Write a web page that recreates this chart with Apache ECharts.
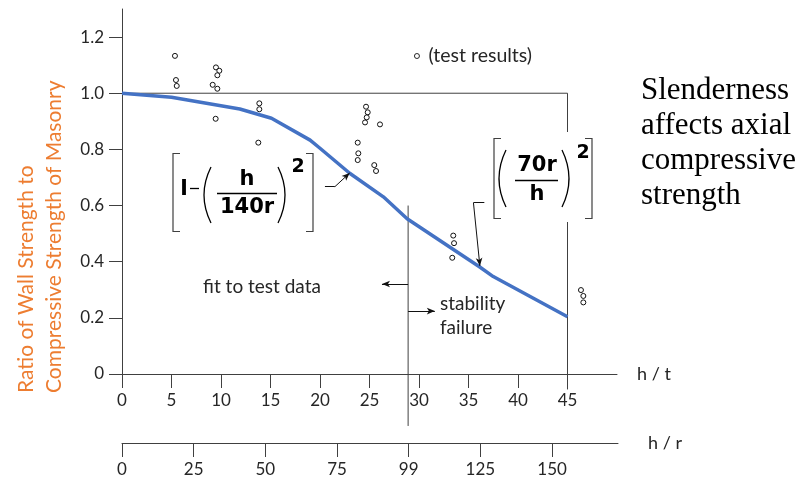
<!DOCTYPE html>
<html>
<head>
<meta charset="utf-8">
<script src="https://cdn.jsdelivr.net/npm/echarts@6/dist/echarts.min.js"></script>
<style>
  html, body { margin: 0; padding: 0; background: #fff; }
  #chart { width: 802px; height: 481px; }
</style>
</head>
<body>
<div id="chart"></div>
<script>
// h/t axis ticks
const htTicks = [0, 5, 10, 15, 20, 25, 30, 35, 40, 45];
// h/r axis: tick positions and the labels printed under them (100 is printed as 99)
const hrTicks = [0, 25, 50, 75, 100, 125, 150];
const hrLabels = ["0", "25", "50", "75", "99", "125", "150"];
// ratio axis
const ratioTicks = [0, 0.2, 0.4, 0.6, 0.8, 1.0, 1.2];
const ratioLabels = ["0", "0.2", "0.4", "0.6", "0.8", "1.0", "1.2"];

// fitted curve [h/t, ratio]
const fitCurve = [
    [0, 1.0], [5.0, 0.986], [11.9, 0.944], [15.1, 0.911], [19.0, 0.833],
    [20.0, 0.804], [23.0, 0.715], [26.4, 0.631], [28.8, 0.553],
    [36.1, 0.382], [37.5, 0.347], [45.0, 0.204],
];

// test results [h/t, ratio]
const testResults = [
    [5.35, 1.133], [5.45, 1.047], [5.53, 1.026],
    [9.49, 1.092], [9.83, 1.080], [9.63, 1.064], [9.16, 1.030], [9.63, 1.016], [9.46, 0.909],
    [13.87, 0.964], [13.87, 0.943], [13.77, 0.824],
    [24.65, 0.952], [24.82, 0.932], [24.72, 0.914], [24.55, 0.896], [26.06, 0.889],
    [23.81, 0.824], [23.87, 0.786], [23.81, 0.762], [25.48, 0.744], [25.66, 0.723],
    [33.46, 0.493], [33.54, 0.466], [33.36, 0.414],
    [46.36, 0.299], [46.6, 0.278], [46.6, 0.255],
];

// reference lines (h/t, ratio)
const limitFrame = [[0, 1.0], [45, 1.0], [45, -0.055]];
const stabilityLine = [[28.9, 0.6], [28.9, -0.185]];

const ink = "#262626";
const axisColor = "#404040";
const labelFont = "Lato";

const chartDom = document.getElementById("chart");
const myChart = echarts.init(chartDom);

function plainLine(name, data) {
    return {
        name: name,
        type: "line",
        data: data,
        symbol: "none",
        clip: false,
        silent: true,
        lineStyle: { color: axisColor, width: 1 },
        z: 1,
    };
}

function arrowSeg(from, to, withArrow) {
    return [
        { coord: from, symbol: "none" },
        { coord: to, symbol: withArrow ? "arrow" : "none", symbolSize: [5, 8] },
    ];
}

const option = {
    animation: false,
    backgroundColor: "#fff",
    grid: [
        { left: 122, right: 185, top: 9, bottom: 107 },
        { left: 122, right: 184, top: 442, height: 1 },
    ],
    legend: {
        data: ["(test results)"],
        left: 414,
        top: 46,
        padding: 0,
        selectedMode: false,
        itemWidth: 13,
        itemHeight: 5,
        itemStyle: { borderWidth: 0.9 },
        textStyle: { fontFamily: labelFont, fontSize: 19.5, color: ink },
    },
    xAxis: [
        {
            type: "value",
            gridIndex: 0,
            min: 0,
            max: 50,
            name: "h / t",
            nameLocation: "end",
            nameGap: 20,
            nameTextStyle: { fontFamily: labelFont, fontSize: 18, color: ink },
            splitLine: { show: false },
            axisLine: { lineStyle: { color: axisColor } },
            axisTick: { length: 14, customValues: htTicks, lineStyle: { color: axisColor } },
            axisLabel: {
                customValues: htTicks,
                margin: 18,
                fontFamily: labelFont,
                fontSize: 17,
                color: ink,
            },
        },
        {
            type: "value",
            gridIndex: 1,
            min: 0,
            max: 173,
            position: "bottom",
            name: "h / r",
            nameLocation: "end",
            nameGap: 30,
            nameTextStyle: { fontFamily: labelFont, fontSize: 18, color: ink },
            splitLine: { show: false },
            axisLine: { lineStyle: { color: axisColor } },
            axisTick: { length: 14, customValues: hrTicks, lineStyle: { color: axisColor } },
            axisLabel: {
                customValues: hrTicks,
                margin: 18,
                fontFamily: labelFont,
                fontSize: 17,
                color: ink,
                formatter: function (v) {
                    return hrLabels[hrTicks.indexOf(v)];
                },
            },
        },
    ],
    yAxis: [
        {
            type: "value",
            gridIndex: 0,
            min: 0,
            max: 1.3,
            splitLine: { show: false },
            axisLine: { show: true, lineStyle: { color: axisColor } },
            axisTick: { show: true, length: 13, customValues: ratioTicks, lineStyle: { color: axisColor } },
            axisLabel: {
                customValues: ratioTicks,
                margin: 18,
                fontFamily: labelFont,
                fontSize: 17,
                color: ink,
                formatter: function (v) {
                    const i = ratioTicks.findIndex((t) => Math.abs(t - v) < 1e-6);
                    return i >= 0 ? ratioLabels[i] : "";
                },
            },
        },
        { type: "value", gridIndex: 1, show: false, min: 0, max: 1 },
    ],
    series: [
        plainLine("limit", limitFrame),
        plainLine("stability", stabilityLine),
        {
            name: "annotations",
            type: "line",
            data: [],
            markLine: {
                silent: true,
                animation: false,
                label: { show: false },
                lineStyle: { color: "#111", width: 1, type: "solid" },
                data: [
                    // fit to test data arrow
                    arrowSeg([28.9, 0.3205], [26.26, 0.3205], true),
                    // stability failure arrow
                    arrowSeg([28.9, 0.224], [31.6, 0.224], true),
                    // leader from first formula
                    arrowSeg([20.5, 0.667], [21.5, 0.667], false),
                    arrowSeg([21.5, 0.667], [23.0, 0.716], true),
                    // leader from second formula
                    arrowSeg([36.6, 0.61], [35.5, 0.61], false),
                    arrowSeg([35.5, 0.61], [36.15, 0.385], true),
                ],
            },
        },
        {
            name: "fit",
            type: "line",
            data: fitCurve,
            symbol: "none",
            lineStyle: { color: "#4472C4", width: 3.5 },
            z: 3,
        },
        {
            name: "(test results)",
            type: "scatter",
            data: testResults,
            symbol: "circle",
            symbolSize: 5,
            clip: false,
            itemStyle: { color: "#fff", borderColor: "#111", borderWidth: 1, opacity: 1 },
            z: 4,
        },
    ],
    graphic: [
        // y axis title, two rotated lines
        {
            type: "text", x: 26, y: 393, rotation: Math.PI / 2, z: 10,
            style: { text: "Ratio of Wall Strength to", fill: "#ED7D31", fontFamily: labelFont, fontSize: 21, align: "left", verticalAlign: "middle" },
        },
        {
            type: "text", x: 54, y: 393, rotation: Math.PI / 2, z: 10,
            style: { text: "Compressive Strength of Masonry", fill: "#ED7D31", fontFamily: labelFont, fontSize: 21, align: "left", verticalAlign: "middle" },
        },
        // side note
        {
            type: "text", x: 641, y: 73, z: 10,
            style: { text: "Slenderness\naffects axial\ncompressive\nstrength", fill: "#000", fontFamily: "Liberation Serif", fontSize: 31, lineHeight: 35, align: "left", verticalAlign: "top" },
        },
        // in-plot notes
        { type: "text", x: 262, y: 287, z: 10, style: { text: "fit to test data", fill: ink, fontFamily: labelFont, fontSize: 19, align: "center", verticalAlign: "middle" } },
        { type: "text", x: 440, y: 304, z: 10, style: { text: "stability", fill: ink, fontFamily: labelFont, fontSize: 19, verticalAlign: "middle" } },
        { type: "text", x: 440, y: 328, z: 10, style: { text: "failure", fill: ink, fontFamily: labelFont, fontSize: 19, verticalAlign: "middle" } },

        // formula 1: [ l - (h / 140r)^2 ]
        { type: "polyline", z: 10, shape: { points: [[180, 153.5], [173, 153.5], [173, 231.5], [180, 231.5]] }, style: { stroke: axisColor, lineWidth: 1.2, fill: null } },
        { type: "polyline", z: 10, shape: { points: [[306, 153.5], [313, 153.5], [313, 231.5], [306, 231.5]] }, style: { stroke: axisColor, lineWidth: 1.2, fill: null } },
        { type: "text", x: 184, y: 189, z: 10, style: { text: "l", fill: "#000", fontFamily: "DejaVu Sans", fontWeight: "bold", fontSize: 22, align: "center", verticalAlign: "middle" } },
        { type: "line", z: 10, shape: { x1: 190, y1: 188.5, x2: 199, y2: 188.5 }, style: { stroke: "#000", lineWidth: 1.3 } },
        { type: "bezierCurve", z: 10, shape: { x1: 211, y1: 167, x2: 211, y2: 223, cpx1: 197, cpy1: 195 }, style: { stroke: "#000", lineWidth: 1.3, fill: null } },
        { type: "bezierCurve", z: 10, shape: { x1: 278, y1: 167, x2: 278, y2: 223, cpx1: 292, cpy1: 195 }, style: { stroke: "#000", lineWidth: 1.3, fill: null } },
        { type: "text", x: 247, y: 180, z: 10, style: { text: "h", fill: "#000", fontFamily: "DejaVu Sans", fontWeight: "bold", fontSize: 21, align: "center", verticalAlign: "middle" } },
        { type: "line", z: 10, shape: { x1: 217, y1: 193.5, x2: 277, y2: 193.5 }, style: { stroke: "#000", lineWidth: 1.5 } },
        { type: "text", x: 247, y: 208, z: 10, style: { text: "140r", fill: "#000", fontFamily: "DejaVu Sans", fontWeight: "bold", fontSize: 21, align: "center", verticalAlign: "middle" } },
        { type: "text", x: 298, y: 167, z: 10, style: { text: "2", fill: "#000", fontFamily: "DejaVu Sans", fontWeight: "bold", fontSize: 19, align: "center", verticalAlign: "middle" } },

        // formula 2: [ (70r / h)^2 ]
        { type: "rect", z: 9, shape: { x: 488, y: 132, width: 109, height: 90 }, style: { fill: "#fff" } },
        { type: "polyline", z: 10, shape: { points: [[501, 138.5], [494, 138.5], [494, 218.5], [501, 218.5]] }, style: { stroke: axisColor, lineWidth: 1.2, fill: null } },
        { type: "polyline", z: 10, shape: { points: [[585, 138.5], [592, 138.5], [592, 218.5], [585, 218.5]] }, style: { stroke: axisColor, lineWidth: 1.2, fill: null } },
        { type: "bezierCurve", z: 10, shape: { x1: 506, y1: 150, x2: 506, y2: 207, cpx1: 492, cpy1: 178.5 }, style: { stroke: "#000", lineWidth: 1.3, fill: null } },
        { type: "bezierCurve", z: 10, shape: { x1: 562, y1: 150, x2: 562, y2: 207, cpx1: 576, cpy1: 178.5 }, style: { stroke: "#000", lineWidth: 1.3, fill: null } },
        { type: "text", x: 537, y: 166, z: 10, style: { text: "70r", fill: "#000", fontFamily: "DejaVu Sans", fontWeight: "bold", fontSize: 21, align: "center", verticalAlign: "middle" } },
        { type: "line", z: 10, shape: { x1: 515, y1: 180.5, x2: 558, y2: 180.5 }, style: { stroke: "#000", lineWidth: 1.5 } },
        { type: "text", x: 537, y: 195, z: 10, style: { text: "h", fill: "#000", fontFamily: "DejaVu Sans", fontWeight: "bold", fontSize: 21, align: "center", verticalAlign: "middle" } },
        { type: "text", x: 583, y: 153, z: 10, style: { text: "2", fill: "#000", fontFamily: "DejaVu Sans", fontWeight: "bold", fontSize: 19, align: "center", verticalAlign: "middle" } },
    ],
};

myChart.setOption(option);

window.addEventListener("resize", function () {
    myChart.resize();
});
</script>
</body>
</html>
